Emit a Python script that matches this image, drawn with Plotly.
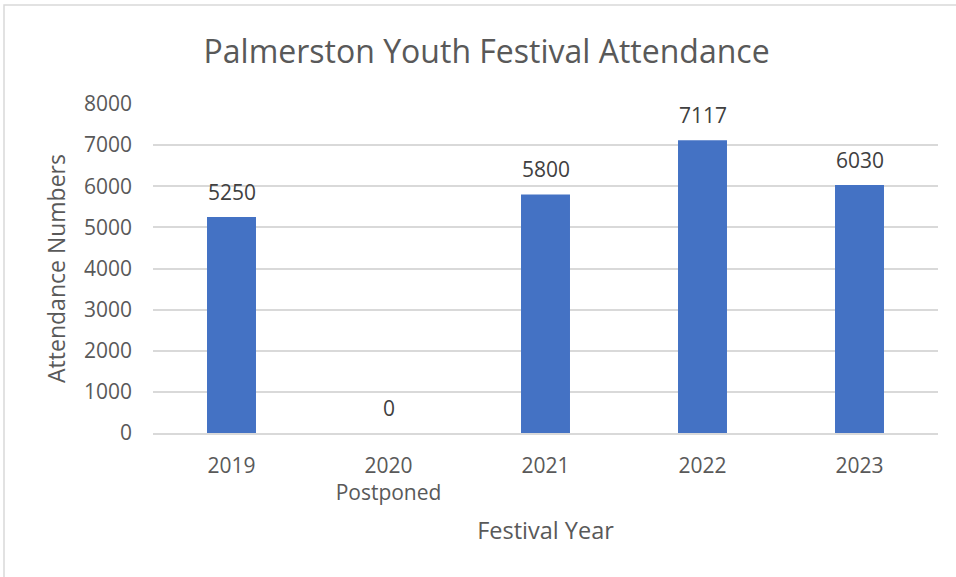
import plotly.graph_objects as go

categories = ["2019", "2020<br>Postponed", "2021", "2022", "2023"]
attendance = [5250, 0, 5800, 7117, 6030]
y_ticks = [0, 1000, 2000, 3000, 4000, 5000, 6000, 7000, 8000]

FONT = "Open Sans"
GREY = "#595959"

positions = list(range(len(categories)))

fig = go.Figure()
fig.add_trace(go.Bar(
    x=positions, y=attendance,
    marker=dict(color="#4472C4", line=dict(width=0)),
    width=0.312,
    hovertext=categories, hoverinfo="text+y",
))

for p, v in zip(positions, attendance):
    fig.add_annotation(x=p, y=v, text=str(v), showarrow=False,
                       yanchor="bottom", yshift=9,
                       font=dict(family=FONT, size=21, color="#404040"))

# outer chart border (left and top visible)
fig.add_shape(type="rect", xref="paper", yref="paper",
              x0=-0.1898, x1=1.03, y0=-0.45, y1=1.3009,
              line=dict(color="#d9d9d9", width=1.5), layer="below")

fig.update_layout(
    width=956, height=577,
    margin=dict(l=153, r=18, t=104, b=144, autoexpand=False),
    paper_bgcolor="white", plot_bgcolor="white",
    showlegend=False,
    font=dict(family=FONT, color=GREY),
    title=dict(text="Palmerston Youth Festival Attendance",
               x=0.509, xanchor="center", y=0.911, yanchor="middle",
               font=dict(family=FONT, size=32, color=GREY)),
)
fig.update_xaxes(
    range=[-0.5, len(categories) - 0.5], tickvals=positions, ticktext=categories,
    automargin=False, zeroline=False,
    showgrid=False, showline=True, linecolor="#d9d9d9", linewidth=1.5,
    tickfont=dict(size=21, color=GREY), ticklabelstandoff=13,
    title=dict(text="Festival Year", font=dict(size=23.5, color=GREY), standoff=17),
)
fig.update_yaxes(
    range=[0, 8000], tickvals=y_ticks, automargin=False,
    showgrid=True, gridcolor="#d9d9d9", gridwidth=1.5,
    zeroline=False, showline=False,
    tickfont=dict(size=21, color=GREY), ticklabelstandoff=20,
    title=dict(text="Attendance Numbers", font=dict(size=23, color=GREY), standoff=11),
)

fig.write_html("out.html", config={"displayModeBar": False},
               post_script="document.body.style.margin='0';")
